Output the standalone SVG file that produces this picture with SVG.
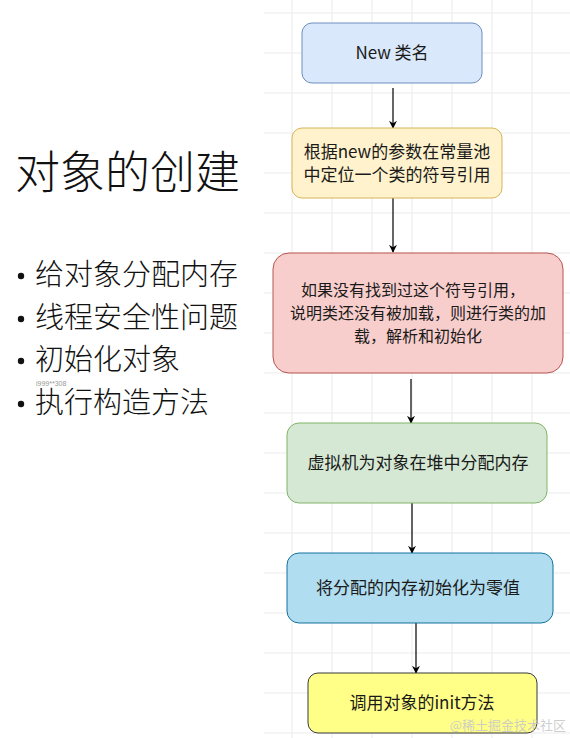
<svg xmlns="http://www.w3.org/2000/svg" width="570" height="738" viewBox="0 0 570 738">
<style>
.t{font-family:"Noto Sans CJK SC","Liberation Sans",sans-serif;font-size:17px;fill:#1a1a1a;text-anchor:middle}
.s{font-size:16px}
.big{font-family:"Noto Sans CJK SC",sans-serif;fill:#111;font-weight:300}
.edge{stroke:#000;stroke-width:1.2;fill:none;marker-end:url(#ah)}
.grid line{stroke:#ebebeb;stroke-width:1}
</style>
<defs>
<marker id="ah" viewBox="0 0 10 10" refX="9" refY="5" markerWidth="8" markerHeight="8" markerUnits="userSpaceOnUse" orient="auto">
<path d="M0,0 L10,5 L0,10 L3,5 Z" fill="#000"/>
</marker>
</defs>
<rect width="570" height="738" fill="#fff"/>
<g class="grid">
<line x1="292" y1="0" x2="292" y2="738"/><line x1="332" y1="0" x2="332" y2="738"/><line x1="372" y1="0" x2="372" y2="738"/><line x1="412" y1="0" x2="412" y2="738"/><line x1="452" y1="0" x2="452" y2="738"/><line x1="492" y1="0" x2="492" y2="738"/><line x1="532" y1="0" x2="532" y2="738"/>
<line x1="264" y1="13" x2="570" y2="13"/><line x1="264" y1="53" x2="570" y2="53"/><line x1="264" y1="93" x2="570" y2="93"/><line x1="264" y1="133" x2="570" y2="133"/><line x1="264" y1="173" x2="570" y2="173"/><line x1="264" y1="213" x2="570" y2="213"/><line x1="264" y1="253" x2="570" y2="253"/><line x1="264" y1="293" x2="570" y2="293"/><line x1="264" y1="333" x2="570" y2="333"/><line x1="264" y1="373" x2="570" y2="373"/><line x1="264" y1="413" x2="570" y2="413"/><line x1="264" y1="453" x2="570" y2="453"/><line x1="264" y1="493" x2="570" y2="493"/><line x1="264" y1="533" x2="570" y2="533"/><line x1="264" y1="573" x2="570" y2="573"/><line x1="264" y1="613" x2="570" y2="613"/><line x1="264" y1="653" x2="570" y2="653"/><line x1="264" y1="693" x2="570" y2="693"/><line x1="264" y1="733" x2="570" y2="733"/>
</g>
<g id="left-panel">
<text class="big" x="15" y="189" font-size="45">对象的创建</text>
<g fill="#111">
<circle cx="21" cy="276" r="3.2"/><circle cx="21" cy="319" r="3.2"/><circle cx="21" cy="361" r="3.2"/><circle cx="21" cy="404" r="3.2"/>
</g>
<g font-size="29" class="big">
<text x="35" y="285">给对象分配内存</text>
<text x="35" y="328">线程安全性问题</text>
<text x="35" y="370">初始化对象</text>
<text x="35" y="413">执行构造方法</text>
</g>
<text x="36" y="386" font-family="Liberation Sans,sans-serif" font-size="7" fill="#999">i999**308</text>
</g>
<g id="connectors">
<line class="edge" x1="393" y1="88" x2="393" y2="128"/>
<line class="edge" x1="393" y1="198" x2="393" y2="252"/>
<line class="edge" x1="411" y1="379" x2="411" y2="423"/>
<line class="edge" x1="412" y1="503" x2="412" y2="553"/>
<line class="edge" x1="416" y1="623" x2="416" y2="673"/>
</g>
<g id="n1">
<rect x="302" y="23" width="180" height="60" rx="10" fill="#dae8fc" stroke="#6c8ebf"/>
<text class="t" x="392" y="59">New 类名</text>
</g>
<g id="n2">
<rect x="292" y="128" width="210" height="70" rx="10" fill="#fff2cc" stroke="#d6b656"/>
<text class="t" x="397" y="158">根据new的参数在常量池</text>
<text class="t" x="397" y="181">中定位一个类的符号引用</text>
</g>
<g id="n3">
<rect x="273" y="253" width="290" height="120" rx="16" fill="#f8cecc" stroke="#b85450"/>
<text class="t s" x="413" y="296">如果没有找到过这个符号引用，</text>
<text class="t s" x="418" y="319">说明类还没有被加载，则进行类的加</text>
<text class="t s" x="418" y="342">载，解析和初始化</text>
</g>
<g id="n4">
<rect x="287" y="423" width="260" height="80" rx="12" fill="#d5e8d4" stroke="#82b366"/>
<text class="t" x="418" y="469">虚拟机为对象在堆中分配内存</text>
</g>
<g id="n5">
<rect x="287" y="553" width="266" height="70" rx="12" fill="#b1ddf0" stroke="#10739e"/>
<text class="t" x="418" y="594">将分配的内存初始化为零值</text>
</g>
<g id="n6">
<rect x="308" y="673" width="229" height="60" rx="10" fill="#ffff88" stroke="#36393d"/>
<text class="t" x="422" y="709">调用对象的init方法</text>
</g>
<text x="566" y="730" text-anchor="end" font-family="Noto Sans CJK SC,sans-serif" font-size="13" fill="#c8c8c8" fill-opacity="0.9">@稀土掘金技术社区</text>
</svg>
